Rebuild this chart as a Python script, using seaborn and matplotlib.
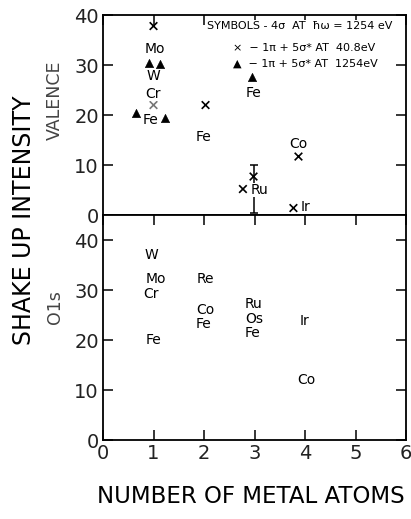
import matplotlib
matplotlib.use("Agg")
import matplotlib.pyplot as plt
import seaborn as sns
import pandas as pd

# valence panel: x markers (-1pi+5sigma* at 40.8 eV)
cross_x = [1.0, 1.0, 2.03, 2.77, 2.98, 3.87, 3.77]
cross_y = [37.8, 22.0, 22.0, 5.2, 7.7, 11.7, 1.4]
cross_shade = ["k", "g", "k", "k", "k", "k", "k"]

# valence panel: triangles (-1pi+5sigma* at 1254 eV)
tri_x = [0.91, 1.13, 0.65, 1.23, 2.95]
tri_y = [30.5, 30.2, 20.4, 19.4, 27.6]

# Ru error bar
ru_x = [2.98]
ru_y = [7.7]
ru_low = [0.5]
ru_high = [10.0]

# element labels, valence panel (symbols = 4sigma at 1254 eV)
val_names = ["Mo", "W", "Cr", "Fe", "Fe", "Fe", "Co", "Ru", "Ir"]
val_x = [1.02, 0.99, 0.99, 0.95, 1.98, 2.97, 3.86, 3.1, 4.0]
val_y = [33.2, 27.8, 24.2, 19.0, 15.7, 24.5, 14.2, 5.0, 1.7]

# element labels, O1s panel
o1s_names = ["W", "Mo", "Cr", "Fe", "Re", "Co", "Fe", "Ru", "Os", "Fe", "Ir", "Co"]
o1s_x = [0.96, 1.04, 0.96, 0.99, 2.03, 2.03, 1.99, 2.98, 2.99, 2.96, 3.98, 4.02]
o1s_y = [37.0, 32.3, 29.3, 20.0, 32.2, 26.0, 23.2, 27.2, 24.3, 21.5, 23.8, 12.1]

sns.set_style("ticks")
plt.rcParams['font.family'] = ['DejaVu Sans']
plt.rcParams['text.color'] = 'black'

fig = plt.figure(figsize=(4.11, 5.19), dpi=100)
gs = fig.add_gridspec(2, 1, height_ratios=[40, 45], hspace=0,
                      left=0.2506, right=0.988, top=0.971, bottom=0.1522)
ax1 = fig.add_subplot(gs[0])
ax2 = fig.add_subplot(gs[1], sharex=ax1)

cross_df = pd.DataFrame({"x": cross_x, "y": cross_y, "c": cross_shade})
sns.scatterplot(data=cross_df, x="x", y="y", hue="c",
                palette={"k": "black", "g": "#777777"}, marker="x",
                s=30, linewidth=1.2, legend=False, ax=ax1)
tri_df = pd.DataFrame({"x": tri_x, "y": tri_y})
sns.scatterplot(data=tri_df, x="x", y="y", marker="^", color="black",
                s=35, edgecolor="black", legend=False, ax=ax1)

lo = [y - l for y, l in zip(ru_y, ru_low)]
hi = [h - y for y, h in zip(ru_y, ru_high)]
ax1.errorbar(ru_x, ru_y, yerr=[lo, hi], fmt="none", ecolor="black",
             elinewidth=1.1, capsize=3, capthick=1.1)

for n, x, y in zip(val_names, val_x, val_y):
    ax1.text(x, y, n, ha="center", va="center", fontsize=10, zorder=5,
             bbox=dict(facecolor="white", edgecolor="none", pad=0.3))
for n, x, y in zip(o1s_names, o1s_x, o1s_y):
    ax2.text(x, y, n, ha="center", va="center", fontsize=10)

# legend block
ax1.text(3.9, 37.9, "SYMBOLS - 4σ  AT  ħω = 1254 eV", ha="center",
         va="center", fontsize=8, zorder=5,
         bbox=dict(facecolor="white", edgecolor="none", pad=0.5))
ax1.text(2.58, 33.5, "×  − 1π + 5σ* AT  40.8eV", ha="left",
         va="center", fontsize=8)
ax1.text(2.58, 30.3, "▲  − 1π + 5σ* AT  1254eV", ha="left",
         va="center", fontsize=8)

ax1.set_xlim(0, 6)
ax1.set_ylim(0, 40)
ax2.set_ylim(0, 45)
ax1.set_yticks([0, 10, 20, 30, 40])
ax2.set_yticks([0, 10, 20, 30, 40])
ax2.set_xticks([0, 1, 2, 3, 4, 5, 6])

for ax in (ax1, ax2):
    for sp in ax.spines.values():
        sp.set_visible(True)
        sp.set_linewidth(1.3)
        sp.set_color("black")
    ax.tick_params(direction="in", length=7, width=1.1, top=True,
                   right=True, labelsize=14, labelcolor="#222222",
                   color="black", pad=3)
    ax.set_xlabel("")
    ax.set_ylabel("")
ax1.tick_params(axis="x", bottom=False, labelbottom=False)

fig.text(0.058, 0.576, "SHAKE UP INTENSITY", rotation=90, ha="center",
         va="center", fontsize=17)
fig.text(0.134, 0.807, "VALENCE", rotation=90, ha="center", va="center",
         fontsize=12.5, color="#444444")
fig.text(0.134, 0.408, "O1s", rotation=90, ha="center", va="center",
         fontsize=12.5, color="#444444")
fig.text(0.236, 0.043, "NUMBER OF METAL ATOMS", ha="left", va="center",
         fontsize=16.5)

fig.savefig("out.png", dpi=100)
